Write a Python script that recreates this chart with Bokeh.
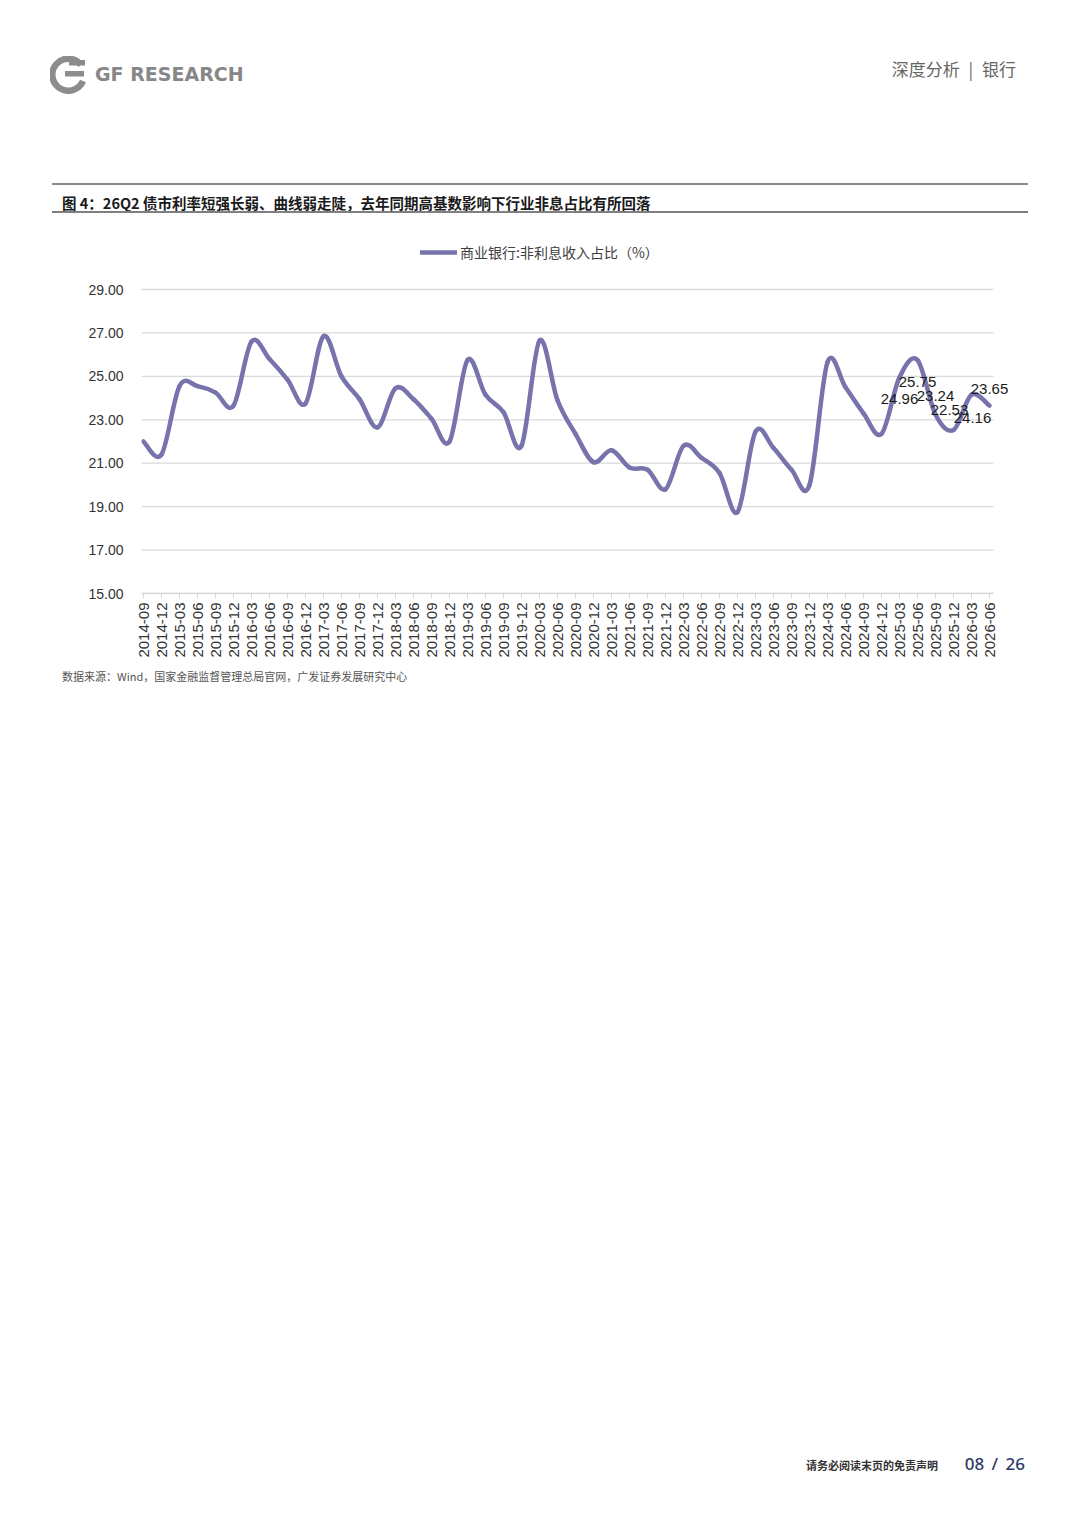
import numpy as np
from bokeh.plotting import figure
from bokeh.layouts import column
from bokeh.models import (ColumnDataSource, FixedTicker, LabelSet, Legend,
                          LegendItem, Range1d, NumeralTickFormatter, Div)
from bokeh.core.properties import value
from bokeh.embed import file_html
from bokeh.resources import INLINE

# ---------------- data ----------------
periods = ["2014-09", "2014-12",
           "2015-03", "2015-06", "2015-09", "2015-12",
           "2016-03", "2016-06", "2016-09", "2016-12",
           "2017-03", "2017-06", "2017-09", "2017-12",
           "2018-03", "2018-06", "2018-09", "2018-12",
           "2019-03", "2019-06", "2019-09", "2019-12",
           "2020-03", "2020-06", "2020-09", "2020-12",
           "2021-03", "2021-06", "2021-09", "2021-12",
           "2022-03", "2022-06", "2022-09", "2022-12",
           "2023-03", "2023-06", "2023-09", "2023-12",
           "2024-03", "2024-06", "2024-09", "2024-12",
           "2025-03", "2025-06", "2025-09", "2025-12",
           "2026-03", "2026-06"]

non_interest_ratio = [22.00, 21.40,
                      24.55, 24.55, 24.25, 23.65,
                      26.60, 25.80, 24.85, 23.75,
                      26.85, 25.00, 23.95, 22.65,
                      24.45, 23.95, 23.05, 22.00,
                      25.75, 24.15, 23.35, 21.80,
                      26.65, 23.90, 22.35, 21.05,
                      21.60, 20.80, 20.70, 19.80,
                      21.80, 21.25, 20.55, 18.75,
                      22.45, 21.70, 20.70, 20.00,
                      25.65, 24.50, 23.30, 22.35,
                      24.96, 25.75, 23.24, 22.53,
                      24.16, 23.65]

labeled_index = [42, 43, 44, 45, 46, 47]
y_ticks = [15, 17, 19, 21, 23, 25, 27, 29]

series_name = "商业银行:非利息收入占比（%）"
title_text = "图 4：26Q2 债市利率短强长弱、曲线弱走陡，去年同期高基数影响下行业非息占比有所回落"
source_text = "数据来源：Wind，国家金融监督管理总局官网，广发证券发展研究中心"
header_brand = "GF RESEARCH"
header_section = "深度分析 | 银行"
footer_note = "请务必阅读末页的免责声明"
footer_page = "08 / 26"

# ---------------- styling ----------------
LINE_COLOR = "#7773ad"
GRID_COLOR = "#d9d9d9"
CJK = "Noto Sans CJK SC"
LAT = "Liberation Sans"
W = 1080
HEADER_H, CHART_H = 220, 445
FOOTER_H = 1527 - HEADER_H - CHART_H


def html_text(text, x, cy, size, color, font=CJK, weight="normal", align="left",
              extra=""):
    pos = f"left:{x}px;" if align == "left" else f"right:{W - x}px;"
    return (f'<div style="position:absolute;{pos}top:{cy - 12}px;height:24px;'
            f'line-height:24px;white-space:pre;font-family:\'{font}\';'
            f'font-size:{size};color:{color};font-weight:{weight};'
            f'text-align:{align};{extra}">{text}</div>')


def html_rule(x0, x1, y, thick, color):
    return (f'<div style="position:absolute;left:{x0}px;top:{y - thick / 2}px;'
            f'width:{x1 - x0}px;height:{thick}px;background:{color};"></div>')


def page_block(inner, height, top):
    # inner elements use absolute page coordinates; shift by the block's top
    return Div(text=f'<div style="position:relative;width:{W}px;height:{height}px;'
                    f'overflow:hidden;"><div style="position:absolute;left:0;'
                    f'top:{-top}px;width:{W}px;height:1527px;">{inner}</div></div>',
               width=W, height=height, margin=0)


logo_svg = ('<svg style="position:absolute;left:50px;top:56px;" width="38" height="38" '
            'viewBox="0 0 38 38">'
            '<path d="M31 9 A16 16 0 1 0 33 25" fill="none" stroke="#8c8c8c" '
            'stroke-width="6.5"/>'
            '<rect x="15" y="15" width="19" height="5.5" fill="#8c8c8c"/>'
            '<rect x="19" y="4" width="16" height="5.5" fill="#8c8c8c"/>'
            '</svg>')

header_inner = (logo_svg
                + html_text(header_brand, 95, 74, "19px", "#878787",
                            font="DejaVu Sans", weight="bold")
                + html_text(header_section, 1016, 69, "17px", "#666666", align="right",
                            extra="word-spacing:5px;")
                + html_rule(52, 1028, 184, 1.2, "#8a8a8a")
                + html_text(title_text, 62, 203, "14.5px", "#1a1a1a", weight="bold")
                + html_rule(52, 1028, 212, 2, "#7f7f7f"))
header = page_block(header_inner, HEADER_H, 0)

footer_inner = (html_text(source_text, 62, 676, "11px", "#555555")
                + html_text(footer_note, 938, 1465, "11px", "#333333", weight="bold",
                            align="right")
                + html_text(footer_page, 1025, 1464, "17px", "#2e3a66",
                            font="Noto Sans", weight="500", align="right",
                            extra="word-spacing:3px;"))
footer = page_block(footer_inner, FOOTER_H, HEADER_H + CHART_H)

# ---------------- chart ----------------
n = len(non_interest_ratio)
px_per_cat = 18.0
px_per_unit = 304 / 14.0          # 2-point gridline step = 43.4 px
x_left = -2 / px_per_cat
x_grid_right = (n - 1) + 4 / px_per_cat
x_right = (n - 1) + 41 / px_per_cat
y_top = 29 + (289 - 238) / px_per_unit   # room for the legend inside the frame

p = figure(width=W, height=CHART_H, output_backend="svg", toolbar_location=None,
           x_range=Range1d(x_left, x_right), y_range=Range1d(15, y_top),
           min_border_left=141, min_border_right=50,
           min_border_top=18, min_border_bottom=72, margin=0)
p.outline_line_color = None
p.background_fill_color = "white"
p.border_fill_color = "white"
p.grid.visible = False

# horizontal gridlines
p.segment(x0=[x_left] * len(y_ticks), x1=[x_grid_right] * len(y_ticks),
          y0=y_ticks, y1=y_ticks, line_color=GRID_COLOR, line_width=1.3)

p.yaxis.ticker = FixedTicker(ticks=y_ticks)
p.yaxis.formatter = NumeralTickFormatter(format="0.00")
p.yaxis.axis_line_color = None
p.yaxis.major_tick_line_color = None
p.yaxis.major_tick_out = 0
p.yaxis.major_tick_in = 0
p.yaxis.minor_tick_line_color = None
p.yaxis.major_label_standoff = 18
p.yaxis.major_label_text_font = LAT
p.yaxis.major_label_text_font_size = "14px"
p.yaxis.major_label_text_color = "#333333"

p.xaxis.ticker = FixedTicker(ticks=list(range(n)))
p.xaxis.bounds = (x_left, x_grid_right)
p.xaxis.major_label_overrides = {i: periods[i] for i in range(n)}
p.xaxis.major_label_orientation = np.pi / 2
p.xaxis.axis_line_color = GRID_COLOR
p.xaxis.axis_line_width = 1.3
p.xaxis.major_tick_line_color = GRID_COLOR
p.xaxis.major_tick_in = 0
p.xaxis.major_tick_out = 5
p.xaxis.minor_tick_line_color = None
p.xaxis.major_label_standoff = 4
p.xaxis.major_label_text_font = LAT
p.xaxis.major_label_text_font_size = "15px"
p.xaxis.major_label_text_color = "#333333"

# smoothed line (Catmull-Rom bezier through the data points)
xs = np.arange(n, dtype=float)
ys = np.array(non_interest_ratio, dtype=float)
i0 = np.arange(n - 1)
im = np.maximum(i0 - 1, 0)
i1 = i0 + 1
i2 = np.minimum(i0 + 2, n - 1)
curve = ColumnDataSource(dict(
    x0=xs[i0], y0=ys[i0], x1=xs[i1], y1=ys[i1],
    cx0=xs[i0] + (xs[i1] - xs[im]) / 6.0, cy0=ys[i0] + (ys[i1] - ys[im]) / 6.0,
    cx1=xs[i1] - (xs[i2] - xs[i0]) / 6.0, cy1=ys[i1] - (ys[i2] - ys[i0]) / 6.0,
))
r = p.bezier(x0="x0", y0="y0", x1="x1", y1="y1", cx0="cx0", cy0="cy0",
             cx1="cx1", cy1="cy1", source=curve,
             line_color=LINE_COLOR, line_width=4.5, line_cap="round")

# data labels on the last six points
lab_x_off = [0, 0, 0, -4, 1, 0]
lab_y_off = [-22, -22, 19, 20, -23, 17]
lab_src = ColumnDataSource(dict(
    x=[float(i) for i in labeled_index],
    y=[non_interest_ratio[i] for i in labeled_index],
    text=[f"{non_interest_ratio[i]:.2f}" for i in labeled_index],
    xo=lab_x_off, yo=lab_y_off,
))
p.add_layout(LabelSet(x="x", y="y", text="text", x_offset="xo", y_offset="yo",
                      source=lab_src, text_align="center", text_baseline="middle",
                      text_font=value(LAT), text_font_size=value("15px"),
                      text_color="#1a1a1a"))

# legend at the top of the plot area (frame-relative screen position)
legend = Legend(items=[LegendItem(label=series_name, renderers=[r])],
                location=(279, 331), orientation="horizontal",
                padding=0, margin=0, spacing=0, glyph_width=37, glyph_height=20,
                label_standoff=3, label_height=20,
                border_line_color=None, background_fill_alpha=0,
                label_text_font=CJK, label_text_font_size="14px",
                label_text_color="#404040")
p.add_layout(legend, "center")

page = column(header, p, footer, spacing=0, margin=0)
open("out.html", "w").write(file_html(page, INLINE))
